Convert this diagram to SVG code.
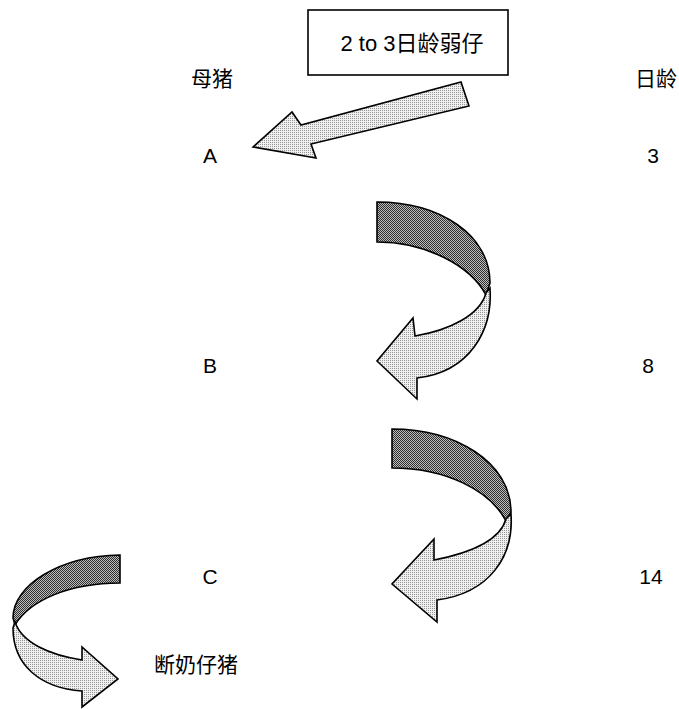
<svg xmlns="http://www.w3.org/2000/svg" width="679" height="709" viewBox="0 0 679 709">
<style>
.lbl{font-family:"Liberation Sans","Noto Sans CJK SC",sans-serif;font-size:21px;fill:#000;text-anchor:middle}
.ttl{font-size:22px}
.sh{stroke:#000;stroke-width:1.6;stroke-linejoin:miter}
.lt{fill:url(#pl)}
.dk{fill:url(#pd)}
</style>
<defs>
<pattern id="pl" width="2" height="2" patternUnits="userSpaceOnUse">
<rect width="2" height="2" fill="#f0f0f0"/>
<rect width="1" height="1" fill="#959595"/>
</pattern>
<pattern id="pd" width="2" height="2" patternUnits="userSpaceOnUse">
<rect width="2" height="2" fill="#bdbdbd"/>
<rect width="1" height="1" fill="#2e2e2e"/>
<rect x="1" y="1" width="1" height="1" fill="#2e2e2e"/>
</pattern>
</defs>
<g id="box">
<rect x="308" y="10" width="200" height="65" fill="#fff" stroke="#000" stroke-width="1.6"/>
<text class="lbl ttl" x="412" y="51">2 to 3日龄弱仔</text>
</g>
<g id="labels">
<g id="sow"><text class="lbl" x="212" y="86">母猪</text></g>
<g id="age"><text class="lbl" x="656" y="86">日龄</text></g>
<g id="A"><text class="lbl" x="210" y="163">A</text></g>
<g id="d3"><text class="lbl" x="653" y="163">3</text></g>
<g id="B"><text class="lbl" x="210" y="373">B</text></g>
<g id="d8"><text class="lbl" x="648" y="373">8</text></g>
<g id="C"><text class="lbl" x="210" y="584">C</text></g>
<g id="d14"><text class="lbl" x="651" y="584">14</text></g>
<g id="weaned"><text class="lbl" x="196" y="672">断奶仔猪</text></g>
</g>
<g id="connectors">
<polygon class="sh lt" points="253,147 292,112 301,125 461,82 469,106 311,144 316,158"/>
<g id="curve1">
<path class="sh dk" d="M377,202 C440,202 490,235 490,283 L486,295 C470,265 425,242 377,242 Z"/>
<path class="sh lt" d="M486,293 L490,288 C493,330 470,372 417,378 L417,399 L377,361 L413,318 L415,336 C450,330 480,315 486,293 Z"/>
</g>
<g id="curve2">
<path class="sh dk" d="M392,429 C455,429 511,462 511,512 L506,521 C490,490 445,468 392,468 Z"/>
<path class="sh lt" d="M506,519 L511,514 C514,556 490,593 437,600 L437,622 L392,584 L434,539 L434,560 C470,553 500,540 506,519 Z"/>
</g>
<g id="curve3">
<path class="sh dk" d="M120,555 C60,556 13,585 13,618 L15,625 C30,600 70,583 120,583 Z"/>
<path class="sh lt" d="M15,622 L13,628 C13,665 40,688 82,691 L82,707 L118,679 L82,647 L82,660 C50,655 22,643 15,622 Z"/>
</g>
</g>
</svg>
